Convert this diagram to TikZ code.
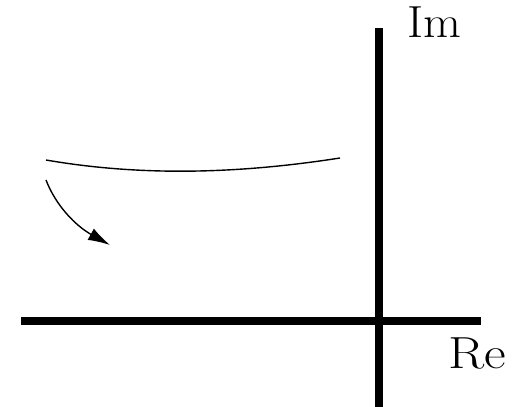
\documentclass[tikz,border=0pt]{standalone}
\usetikzlibrary{arrows.meta}
\begin{document}
\begin{tikzpicture}[x=1pt,y=-1pt,
  axis/.style={line width=8pt,black},
  thin curve/.style={line width=1.4pt,black},
  lbl/.style={anchor=base west,inner sep=0pt,font=\fontsize{45}{50}\selectfont}]
\useasboundingbox (0,0) rectangle (520,407);
\coordinate (xl) at (21,321);
\coordinate (xr) at (481,321);
\coordinate (yb) at (378.5,407);
\coordinate (yt) at (378.5,28);
\draw[axis] (xl) -- (xr);
\draw[axis] (yb) -- (yt);
\node[lbl] (im) at (407,37) {\scalebox{1.09}[1]{Im}};
\node[lbl] (re) at (448,368) {\scalebox{1.18}[1]{Re}};
\coordinate (c1) at (46,160);
\coordinate (c2) at (340,158);
\draw[thin curve] (c1) .. controls (150,178) and (250,172) .. (c2);
\coordinate (a1) at (46,180);
\coordinate (a2) at (110,245);
\draw[thin curve,-{Latex[length=22pt,width=13pt]}] (a1) .. controls (56,206) and (76,226) .. (a2);
\end{tikzpicture}
\end{document}
